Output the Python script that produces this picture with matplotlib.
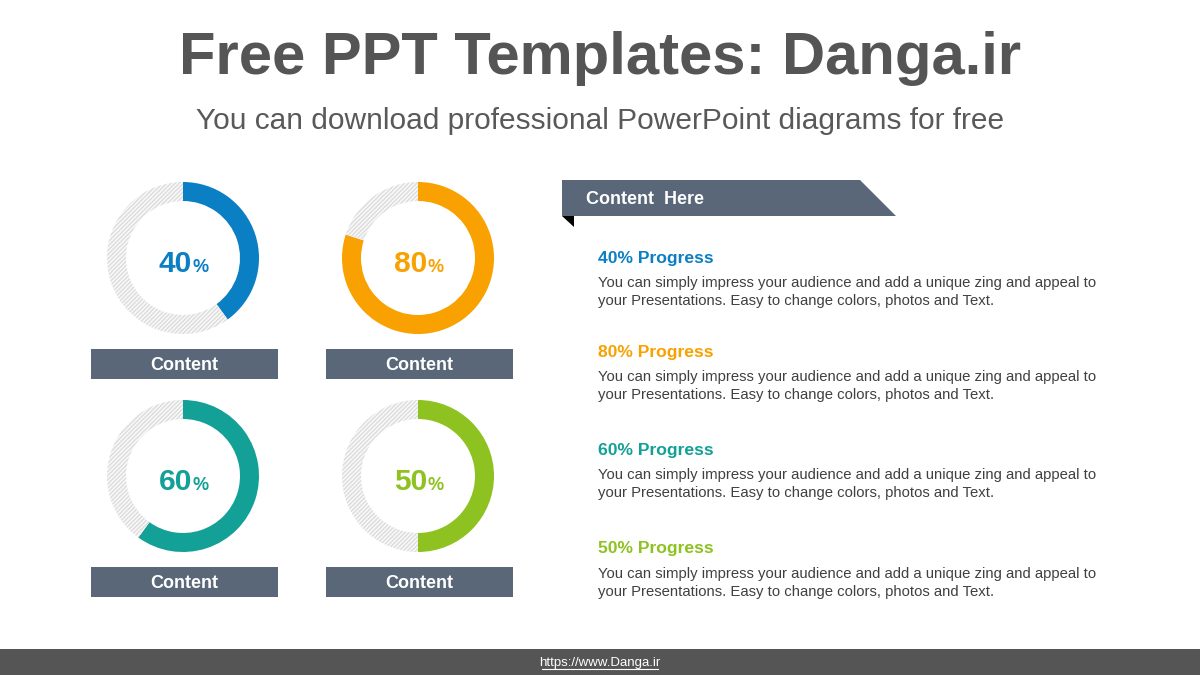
import matplotlib.pyplot as plt
from matplotlib.patches import Polygon, Rectangle

plt.rcParams['font.family'] = ['Liberation Sans', 'DejaVu Sans']

# data
percents = [40, 80, 60, 50]
colors = ['#0b7fc3', '#f8a100', '#12a097', '#8dc220']
box_labels = ['Content', 'Content', 'Content', 'Content']
headings = ['40% Progress', '80% Progress', '60% Progress', '50% Progress']
body = ('You can simply impress your audience and add a unique zing and appeal to\n'
        'your Presentations. Easy to change colors, photos and Text.')

W, H = 1200, 675
fig = plt.figure(figsize=(12, 6.75), dpi=100)
bg = fig.add_axes([0, 0, 1, 1])
bg.set_xlim(0, W)
bg.set_ylim(H, 0)
bg.axis('off')

slate = '#596779'

# titles
bg.text(600, 59, 'Free PPT Templates: Danga.ir', ha='center', va='center',
        fontsize=43, fontweight='bold', color='#555555')
bg.text(600, 121, 'You can download professional PowerPoint diagrams for free',
        ha='center', va='center', fontsize=21.5, color='#595959')

# donuts
centers = [(183, 258), (418, 258), (183, 476), (418, 476)]
R = 76
for (cx, cy), p, c, lab in zip(centers, percents, colors, box_labels):
    ax = fig.add_axes([(cx - R) / W, 1 - (cy + R) / H, 2 * R / W, 2 * R / H])
    wedges, _ = ax.pie([p, 100 - p], colors=[c, '#f9f9f9'], startangle=90,
                       counterclock=False, radius=1,
                       wedgeprops=dict(width=0.25, linewidth=0))
    wedges[1].set_hatch('////////')
    wedges[1].set_edgecolor('#dcdcdc')
    wedges[1].set_linewidth(0)
    ax.set_xlim(-1, 1)
    ax.set_ylim(-1, 1)
    ax.set_aspect('equal')
    ax.axis('off')
    ax.text(0.12, -0.08, f'{p}', ha='right', va='center', fontsize=21.5,
            fontweight='bold', color=c)
    ax.text(0.12, -0.12, '%', ha='left', va='center', fontsize=13,
            fontweight='bold', color=c)
    # label box under the donut
    bg.add_patch(Rectangle((cx - 92, cy + 91), 187, 30, color=slate, lw=0))
    bg.text(cx + 1, cy + 108, lab, ha='center', va='center', fontsize=13,
            fontweight='bold', color='white')

# ribbon header
bg.add_patch(Polygon([(562, 180), (860, 180), (896, 216), (562, 216)],
                     closed=True, color=slate, lw=0))
bg.add_patch(Polygon([(562, 216), (574, 216), (574, 227)], closed=True,
                     color='black', lw=0))
bg.text(586, 200, 'Content  Here', ha='left', va='center', fontsize=13,
        fontweight='bold', color='white')

# progress descriptions
head_y = [258, 352, 450, 549]
for y, h, c in zip(head_y, headings, colors):
    bg.text(598, y, h, ha='left', va='center', fontsize=12.6, fontweight='bold',
            color=c)
    bg.text(598, y + 34, body, ha='left', va='center', fontsize=10.75,
            color='#404040', linespacing=1.3)

# footer
bg.add_patch(Rectangle((0, 649), W, 26, color='#555555', lw=0))
bg.text(600, 663, 'https://www.Danga.ir', ha='center', va='center',
        fontsize=9.5, color='white')
bg.plot([542, 658], [669, 669], color='white', lw=0.8)

fig.savefig('out.png', dpi=100)
